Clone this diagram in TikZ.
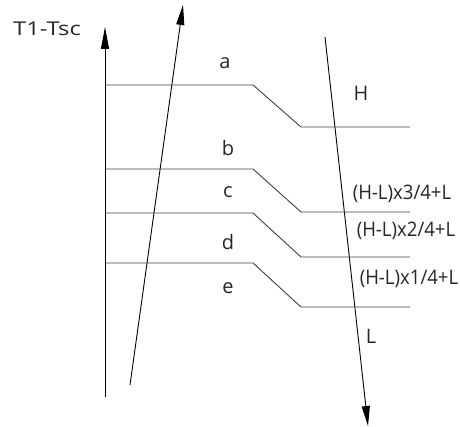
\documentclass[tikz,border=0pt]{standalone}
\usepackage{fontspec}
\setmainfont{Open Sans}
\usetikzlibrary{arrows.meta}
\newcommand{\narrowtxt}[1]{\scalebox{0.93}[1]{#1}}
\begin{document}
\begin{tikzpicture}[x=1pt,y=-1pt,
  lbl/.style={font=\fontsize{20}{22}\selectfont, inner sep=0pt, text=black!85},
  levelline/.style={line width=0.9pt, draw=black!75},
  slantarrow/.style={line width=0.9pt, -{Triangle[length=20pt,width=8pt]}},
  slantline/.style={line width=0.9pt}]
\useasboundingbox (0,0) rectangle (460,427);
% axis
\coordinate (ax0) at (105,397);
\coordinate (ax1) at (105,27);
\draw[levelline, -{Triangle[length=22pt,width=8pt]}, draw=black] (ax0) -- (ax1);
% rising arrow
\coordinate (r0) at (130,385);
\coordinate (r1) at (183,5);
\draw[slantarrow] (r0) -- (r1);
% falling arrow
\coordinate (f0) at (325,37);
\coordinate (f1) at (368,426);
\draw[slantarrow] (f0) -- (f1);
% level lines
\foreach \n/\ya/\yb in {A/85/127, B/169/212, C/213/257, D/263/307} {
  \coordinate (\n0) at (105,\ya);
  \coordinate (\n1) at (253,\ya);
  \coordinate (\n2) at (301,\yb);
  \coordinate (\n3) at (410,\yb);
  \draw[levelline] (\n0) -- (\n1) -- (\n2) -- (\n3);
}
% labels
\node[lbl, font=\fontsize{19}{21}\selectfont] (ttl) at (47,29) {\scalebox{1.25}[1]{T1-Tsc}};
\node[lbl] (la) at (225,63) {a};
\node[lbl] (lb) at (228,148) {b};
\node[lbl] (lc) at (228,192) {c};
\node[lbl] (ld) at (228,242) {d};
\node[lbl] (le) at (228,288) {e};
\node[lbl] (lH) at (361,93) {H};
\node[lbl] (l34) at (402,194) {\narrowtxt{(H-L)x3/4+L}};
\node[lbl] (l24) at (406,231) {\narrowtxt{(H-L)x2/4+L}};
\node[lbl] (l14) at (409,279) {\narrowtxt{(H-L)x1/4+L}};
\node[lbl] (lL) at (371,336) {L};
\end{tikzpicture}
\end{document}
